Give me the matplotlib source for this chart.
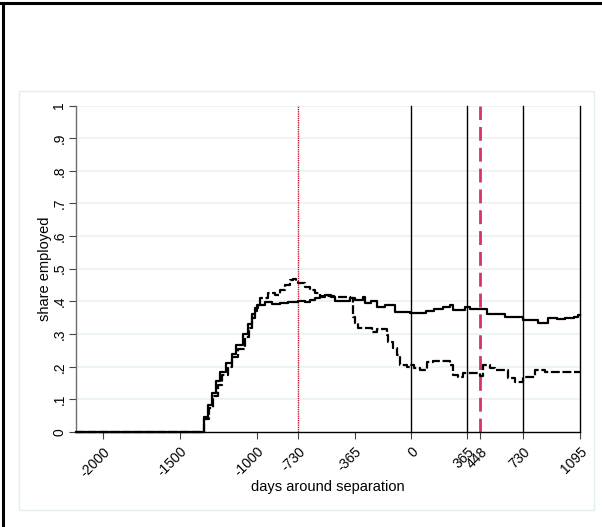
import matplotlib
matplotlib.use("Agg")
import matplotlib.pyplot as plt
from matplotlib.lines import Line2D
from matplotlib.patches import Rectangle

plt.rcParams['font.family'] = ['Liberation Sans', 'DejaVu Sans']

# ---- data (days around separation, share employed) ----
xmin_day = -2175
days_a = [-2175, -1345, -1317, -1291, -1263, -1241, -1198, -1165, -1133, -1090, -1057,
          -1035, -1014, -990, -949, -900, -850, -800, -760, -730, -690, -656, -624,
          -591, -559, -520, -494, -450, -396, -360, -312, -299, -260, -221, -169,
          -104, -60, -6, 58, 100, 150, 208, 253, 273, 351, 383, 420, 494, 546, 611,
          728, 825, 890, 950, 1000, 1060, 1085, 1095]
share_a = [0.0, 0.045, 0.083, 0.12, 0.155, 0.185, 0.21, 0.24, 0.265, 0.30, 0.33,
           0.36, 0.38, 0.39, 0.397, 0.392, 0.395, 0.397, 0.398, 0.401, 0.398, 0.405, 0.41,
           0.418, 0.42, 0.415, 0.40, 0.402, 0.41, 0.405, 0.412, 0.394, 0.40, 0.384, 0.389,
           0.367, 0.368, 0.363, 0.365, 0.372, 0.378, 0.384, 0.389, 0.374, 0.384, 0.376, 0.378,
           0.361, 0.362, 0.353, 0.343, 0.333, 0.348, 0.345, 0.349, 0.352, 0.358, 0.358]

days_b = [-2175, -1345, -1310, -1285, -1255, -1230, -1190, -1160, -1125, -1080, -1050,
          -1030, -1010, -1000, -981, -929, -884, -851, -819, -786, -765, -745, -730,
          -689, -656, -624, -591, -559, -500, -396, -377, -364, -344, -253, -221, -156,
          -149, -117, -91, -71, -26, -6, 20, 58, 104, 143, 253, 273, 305, 338, 448, 468,
          513, 546, 630, 676, 728, 806, 871, 1095]
share_b = [0.0, 0.04, 0.075, 0.11, 0.145, 0.175, 0.20, 0.23, 0.255, 0.29, 0.32,
           0.35, 0.37, 0.39, 0.41, 0.426, 0.42, 0.435, 0.45, 0.466, 0.47, 0.462, 0.455,
           0.445, 0.435, 0.425, 0.413, 0.418, 0.414, 0.41, 0.353, 0.333, 0.318, 0.307, 0.315, 0.297,
           0.277, 0.256, 0.236, 0.205, 0.20, 0.205, 0.195, 0.19, 0.215, 0.218, 0.205, 0.175, 0.167,
           0.18, 0.171, 0.205, 0.195, 0.19, 0.164, 0.154, 0.169, 0.19, 0.185, 0.185]

black_vlines = [0, 365, 730, 1095]
red_dotted_vline = -730
red_dashed_vline = 448
xticks = [-2000, -1500, -1000, -730, -365, 0, 365, 448, 730, 1095]
xticklabels = ['-2000', '-1500', '-1000', '-730', '-365', '0', '365', '448', '730', '1095']
yticks = [0, .1, .2, .3, .4, .5, .6, .7, .8, .9, 1]
yticklabels = ['0', '.1', '.2', '.3', '.4', '.5', '.6', '.7', '.8', '.9', '1']

W, H = 602, 527
fig = plt.figure(figsize=(W / 100, H / 100), dpi=100)
fig.patch.set_facecolor('white')

# outer frame pieces (top and left black lines) and light plot-region frame
fig.add_artist(Line2D([0, 1], [1 - 3 / H, 1 - 3 / H], color='black', lw=2.2, transform=fig.transFigure))
fig.add_artist(Line2D([2.5 / W, 2.5 / W], [0, 1 - 3 / H], color='black', lw=2.2, transform=fig.transFigure))
fig.add_artist(Rectangle((19 / W, 1 - 510 / H), (594 - 19) / W, (510 - 91) / H,
                         transform=fig.transFigure, fill=False, edgecolor='#e4eeee', lw=1.0))

left, right, top, bottom = 76, 579.5, 105.5, 432
ax = fig.add_axes([left / W, 1 - bottom / H, (right - left) / W, (bottom - top) / H])
ax.set_xlim(xmin_day, 1095)
ax.set_ylim(0, 1)

for yv in yticks[1:]:
    ax.axhline(yv, color='#eaf2f3', lw=1.2, zorder=0)

for xv in black_vlines:
    ax.axvline(xv, color='black', lw=1.0, zorder=1, clip_on=False)
ax.axvline(red_dotted_vline, color='#c8102e', lw=1.0, ls=(0, (1, 0.6)), zorder=1)
ax.axvline(red_dashed_vline, color='#d6336c', lw=2.0, ls=(0, (5, 2.5)), zorder=1)

ax.step(days_a, share_a, where='post', color='black', lw=1.6, zorder=3, clip_on=False)
ax.step(days_b, share_b, where='post', color='black', lw=1.6, ls=(0, (4, 1.2)), zorder=3, clip_on=False)

for s in ['top', 'right']:
    ax.spines[s].set_visible(False)
ax.spines['left'].set_color('#6e6e6e')
ax.spines['bottom'].set_color('black')
ax.spines['left'].set_linewidth(1.0)
ax.spines['bottom'].set_linewidth(1.0)

ax.set_yticks(yticks)
ax.set_yticklabels(yticklabels, rotation=90, va='center', fontsize=10)
ax.set_xticks(xticks)
ax.set_xticklabels(xticklabels, rotation=45, ha='right', va='top', rotation_mode='anchor', fontsize=10)
ax.tick_params(axis='both', length=5, width=0.8, color='#444444', pad=2)
ax.tick_params(axis='x', pad=4)

ax.set_ylabel('share employed', fontsize=10.5, labelpad=0)
ax.set_xlabel('days around separation', fontsize=10.5, labelpad=0)

fig.savefig('out.png', dpi=100)
